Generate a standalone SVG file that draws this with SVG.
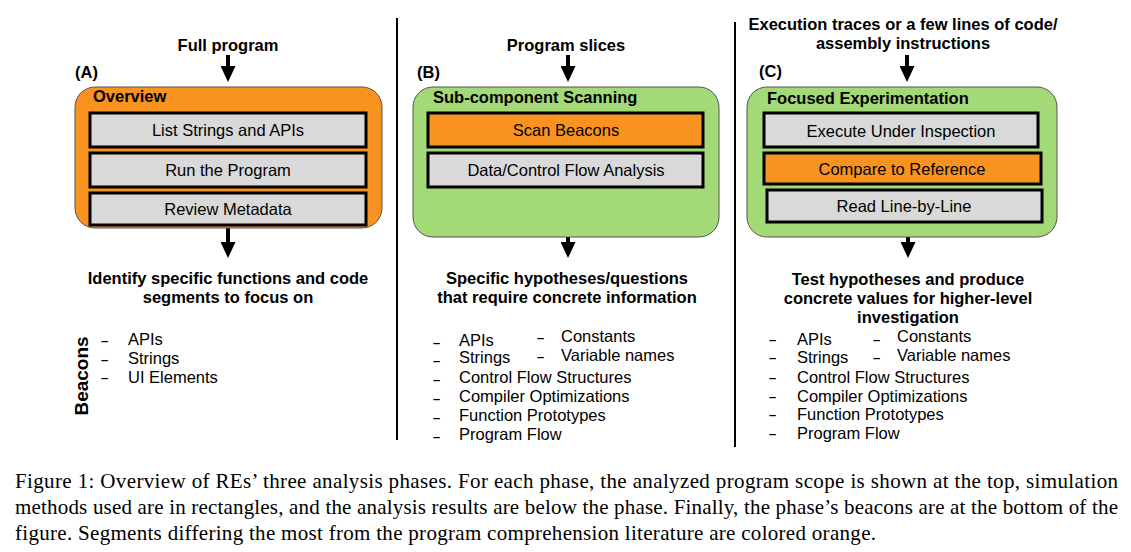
<svg xmlns="http://www.w3.org/2000/svg" width="1131" height="552" viewBox="0 0 1131 552">
<defs>
<marker id="ah" markerUnits="userSpaceOnUse" markerWidth="16" markerHeight="15" refX="0" refY="7.5" orient="auto">
<path d="M0,0 L16,7.5 L0,15 z" fill="#000"/>
</marker>
<style>
.t{font-family:"Liberation Sans",Arial,sans-serif;font-size:16.5px;fill:#000}
.b{font-weight:bold}
.m{text-anchor:middle}
.d{font-family:"Liberation Sans",Arial,sans-serif;font-size:13px;font-weight:bold;fill:#000}
.cap{font-family:"Liberation Serif","Times New Roman",serif;font-size:21px;fill:#000}
.phA{fill:#f7931e;stroke:#555;stroke-width:1}
.phG{fill:#a3d977;stroke:#555;stroke-width:1}
.gr{fill:#d9d9d9;stroke:#000;stroke-width:3}
.or{fill:#f7931e;stroke:#000;stroke-width:3}
.arr{stroke:#000;stroke-width:4;marker-end:url(#ah)}
.div{stroke:#000;stroke-width:2}
</style>
</defs>
<rect width="1131" height="552" fill="#fff"/>

<g id="dividers">
<line class="div" x1="397" y1="18" x2="397" y2="440"/>
<line class="div" x1="735" y1="22" x2="735" y2="447"/>
</g>

<g id="connectors">
<line class="arr" x1="228" y1="55" x2="228" y2="66"/>
<line class="arr" x1="228" y1="228" x2="228" y2="242"/>
<line class="arr" x1="568" y1="55" x2="568" y2="66"/>
<line class="arr" x1="568" y1="237" x2="568" y2="242"/>
<line class="arr" x1="907" y1="55" x2="907" y2="66"/>
<line class="arr" x1="908" y1="237" x2="908" y2="242"/>
</g>

<g id="phaseA">
<text class="t b m" x="228" y="51">Full program</text>
<text class="t b" x="75" y="78">(A)</text>
<rect class="phA" x="75" y="87" width="307" height="141" rx="20"/>
<text class="t b" x="93" y="102">Overview</text>
<g id="A1"><rect class="gr" x="90" y="113" width="276" height="34"/><text class="t m" x="228" y="136">List Strings and APIs</text></g>
<g id="A2"><rect class="gr" x="90" y="153" width="276" height="34"/><text class="t m" x="228" y="176">Run the Program</text></g>
<g id="A3"><rect class="gr" x="90" y="193" width="276" height="32"/><text class="t m" x="228" y="215">Review Metadata</text></g>
<text class="t b m" x="228" y="284">Identify specific functions and code</text>
<text class="t b m" x="228" y="303">segments to focus on</text>
<text class="t b m" style="font-size:19px" transform="translate(87.5,376) rotate(-90)">Beacons</text>
<text class="d" x="101" y="345">–</text><text class="t" x="128" y="345">APIs</text>
<text class="d" x="101" y="364">–</text><text class="t" x="128" y="364">Strings</text>
<text class="d" x="101" y="382">–</text><text class="t" x="128" y="383">UI Elements</text>
</g>

<g id="phaseB">
<text class="t b m" x="566" y="51">Program slices</text>
<text class="t b" x="417" y="78">(B)</text>
<rect class="phG" x="413" y="87" width="306" height="150" rx="20"/>
<text class="t b" x="433" y="103">Sub-component Scanning</text>
<g id="B1"><rect class="or" x="428" y="113" width="275" height="34"/><text class="t m" x="566" y="136">Scan Beacons</text></g>
<g id="B2"><rect class="gr" x="428" y="153" width="275" height="34"/><text class="t m" x="566" y="176">Data/Control Flow Analysis</text></g>
<text class="t b m" x="567" y="284">Specific hypotheses/questions</text>
<text class="t b m" x="567" y="303">that require concrete information</text>
<text class="d" x="433" y="347">–</text><text class="t" x="459" y="346">APIs</text>
<text class="d" x="433" y="365">–</text><text class="t" x="459" y="363">Strings</text>
<text class="d" x="433" y="384">–</text><text class="t" x="459" y="383">Control Flow Structures</text>
<text class="d" x="433" y="403">–</text><text class="t" x="459" y="402">Compiler Optimizations</text>
<text class="d" x="433" y="422">–</text><text class="t" x="459" y="421">Function Prototypes</text>
<text class="d" x="433" y="441">–</text><text class="t" x="459" y="440">Program Flow</text>
<text class="d" x="537" y="342">–</text><text class="t" x="561" y="342">Constants</text>
<text class="d" x="537" y="361">–</text><text class="t" x="561" y="361">Variable names</text>
</g>

<g id="phaseC">
<text class="t b m" x="903" y="30">Execution traces or a few lines of code/</text>
<text class="t b m" x="903" y="49">assembly instructions</text>
<text class="t b" x="759" y="77">(C)</text>
<rect class="phG" x="747" y="87" width="310" height="150" rx="20"/>
<text class="t b" x="767" y="104">Focused Experimentation</text>
<g id="C1"><rect class="gr" x="764" y="113" width="274" height="34"/><text class="t m" x="901" y="137">Execute Under Inspection</text></g>
<g id="C2"><rect class="or" x="764" y="153" width="277" height="31"/><text class="t m" x="902" y="175">Compare to Reference</text></g>
<g id="C3"><rect class="gr" x="767" y="190" width="275" height="32"/><text class="t m" x="904" y="212">Read Line-by-Line</text></g>
<text class="t b m" x="908" y="285">Test hypotheses and produce</text>
<text class="t b m" x="908" y="304">concrete values for higher-level</text>
<text class="t b m" x="908" y="323">investigation</text>
<text class="d" x="769" y="344">–</text><text class="t" x="797" y="345">APIs</text>
<text class="d" x="769" y="362">–</text><text class="t" x="797" y="363">Strings</text>
<text class="d" x="769" y="382">–</text><text class="t" x="797" y="383">Control Flow Structures</text>
<text class="d" x="769" y="401">–</text><text class="t" x="797" y="402">Compiler Optimizations</text>
<text class="d" x="769" y="419">–</text><text class="t" x="797" y="420">Function Prototypes</text>
<text class="d" x="769" y="438">–</text><text class="t" x="797" y="439">Program Flow</text>
<text class="d" x="873" y="344">–</text><text class="t" x="897" y="342">Constants</text>
<text class="d" x="873" y="362">–</text><text class="t" x="897" y="361">Variable names</text>
</g>

<g id="caption">
<text class="cap" x="15" y="488" textLength="1103" lengthAdjust="spacing">Figure 1: Overview of REs’ three analysis phases. For each phase, the analyzed program scope is shown at the top, simulation</text>
<text class="cap" x="15" y="514" textLength="1103" lengthAdjust="spacing">methods used are in rectangles, and the analysis results are below the phase. Finally, the phase’s beacons are at the bottom of the</text>
<text class="cap" x="15" y="540" textLength="861" lengthAdjust="spacing">figure. Segments differing the most from the program comprehension literature are colored orange.</text>
</g>
</svg>
